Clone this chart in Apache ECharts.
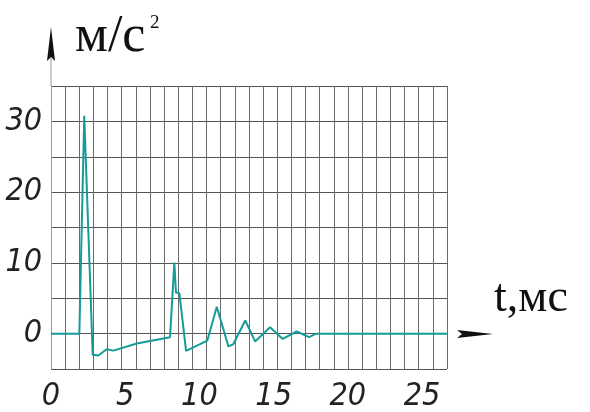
<!DOCTYPE html>
<html>
<head>
<meta charset="utf-8">
<script src="https://cdn.jsdelivr.net/npm/echarts@6/dist/echarts.min.js"></script>
<style>
html, body { margin: 0; padding: 0; background: #fff; }
#chart { width: 590px; height: 412px; }
</style>
</head>
<body>
<div id="chart"></div>
<script>
// время, мс
var timeMs = [0, 1.91, 2.24, 2.81, 3.19, 3.75, 4.2, 5.78, 8.02, 8.31, 8.42, 8.65, 9.1,
	10.53, 11.17, 11.95, 12.28, 13.09, 13.75, 14.76, 15.61, 16.56, 17.39, 17.86, 27.09];
// ускорение, м/с2
var accel = [0, 0, 30.8, -3.0, -3.1, -2.2, -2.4, -1.4, -0.5, 10.05, 5.8, 5.7, -2.45,
	-1.0, 3.8, -1.8, -1.5, 1.85, -1.1, 0.9, -0.75, 0.3, -0.5, 0, 0];
var xTicks = [0, 5, 10, 15, 20, 25];
var yTicks = [0, 10, 20, 30];

window.onload = function() {
	var chart = echarts.init(document.getElementById('chart'), null, { renderer: 'canvas' });

	var points = [];
	for (var i = 0; i < timeMs.length; i++) {
		points.push([timeMs[i], accel[i]]);
	}

	var labelFont = {
		fontSize: 32,
		fontStyle: 'italic',
		fontFamily: 'DejaVu Sans Condensed',
		color: '#222'
	};

	var option = {
		backgroundColor: '#fff',
		animation: false,
		grid: {
			left: 51,
			top: 86,
			right: 143,
			bottom: 43,
			outerBoundsMode: 'none'
		},
		xAxis: [{
			// ось данных (мс)
			type: 'value',
			min: 0,
			max: 26.68,
			interval: 5,
			axisLine: { show: false },
			axisTick: { show: false },
			splitLine: { show: false },
			axisLabel: Object.assign({
				margin: 12,
				showMaxLabel: false,
				formatter: function(v) { return xTicks.indexOf(v) >= 0 ? String(v) : ''; }
			}, labelFont)
		}, {
			// сетка миллиметровки
			type: 'value',
			min: 0,
			max: 28,
			interval: 1,
			position: 'bottom',
			axisLine: { show: false },
			axisTick: { show: false },
			axisLabel: { show: false },
			splitLine: { show: true, lineStyle: { color: '#6a6a6a', width: 1 } }
		}],
		yAxis: {
			type: 'value',
			min: -5,
			max: 35,
			interval: 5,
			axisLine: { show: true, lineStyle: { color: '#999', width: 1 } },
			axisTick: { show: false },
			splitLine: { show: true, lineStyle: { color: '#555', width: 1 } },
			axisLabel: Object.assign({
				margin: 9,
				formatter: function(v) { return yTicks.indexOf(v) >= 0 ? String(v) : ''; }
			}, labelFont)
		},
		series: [{
			type: 'line',
			xAxisIndex: 0,
			data: points,
			showSymbol: false,
			clip: false,
			lineStyle: { color: '#159c99', width: 2 },
			z: 5
		}],
		graphic: [
			{ type: 'line', shape: { x1: 51, y1: 58, x2: 51, y2: 86 }, style: { stroke: '#999', lineWidth: 1 } },
			{ type: 'polygon', shape: { points: [[51, 27], [55, 61], [51, 57], [47, 61]] }, style: { fill: '#111' } },
			{ type: 'polygon', shape: { points: [[493, 334], [457, 338], [462, 334], [457, 330]] }, style: { fill: '#111' } },
			{ type: 'text', x: 75, y: 37, style: { text: 'м/с', fontFamily: 'Liberation Serif', fontSize: 52, fill: '#111', verticalAlign: 'middle' } },
			{ type: 'text', x: 150, y: 23, style: { text: '2', fontFamily: 'Liberation Serif', fontSize: 19, fill: '#111', verticalAlign: 'middle' } },
			{ type: 'text', x: 494, y: 299, style: { text: 't,мс', fontFamily: 'Liberation Serif', fontSize: 46, fill: '#111', verticalAlign: 'middle' } }
		]
	};

	chart.setOption(option);
};
</script>
</body>
</html>
